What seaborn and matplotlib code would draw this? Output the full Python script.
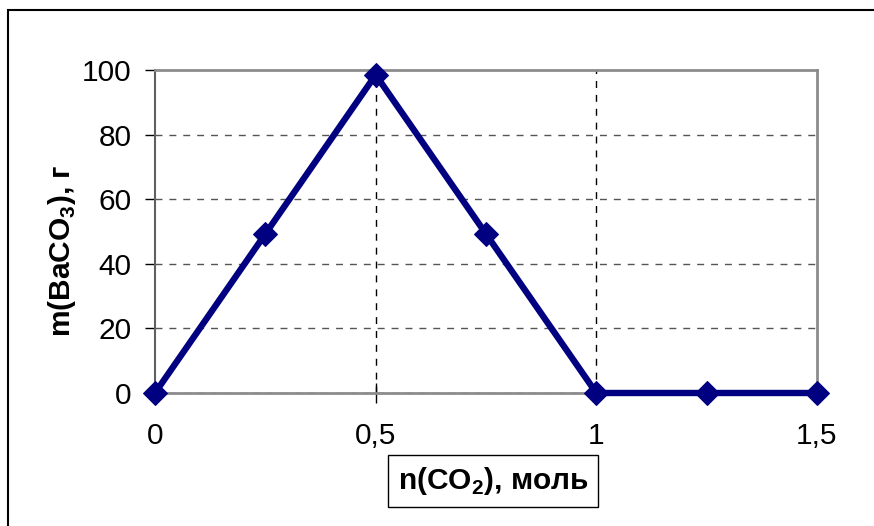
import matplotlib
matplotlib.use('Agg')
import matplotlib.pyplot as plt
import matplotlib.patches as patches
from matplotlib.ticker import FuncFormatter
import seaborn as sns

n_co2 = [0, 0.25, 0.5, 0.75, 1.0, 1.25, 1.5]
m_baco3 = [0, 49.25, 98.5, 49.25, 0, 0, 0]
x_ticks = [0, 0.5, 1.0, 1.5]
y_ticks = [0, 20, 40, 60, 80, 100]

sns.set_style('white')
plt.rcParams['font.family'] = ['Liberation Sans', 'DejaVu Sans']
plt.rcParams['mathtext.fontset'] = 'custom'
plt.rcParams['mathtext.rm'] = 'Liberation Sans'
plt.rcParams['mathtext.bf'] = 'Liberation Sans:bold'
plt.rcParams['text.color'] = 'black'

fig = plt.figure(figsize=(8.74, 5.26), dpi=100)
ax = fig.add_axes([155 / 874, 1 - 393 / 526, (817 - 155) / 874, (393 - 70) / 526])

# сетка
for y in y_ticks[1:-1]:
    ax.axhline(y, color='#555555', lw=1, ls=(0, (5, 5)), zorder=1)
for x in x_ticks[1:-1]:
    ax.axvline(x, color='black', lw=1, ls=(0, (5, 5)), zorder=1)

sns.lineplot(x=n_co2, y=m_baco3, ax=ax, color='#000080', linewidth=4.6,
             marker='D', markersize=12.5, markeredgecolor='#000080', zorder=3,
             clip_on=False)
ax.axhline(0, color='black', lw=1, ls=(0, (5, 5)), zorder=2)

ax.set_xlim(0, 1.5)
ax.set_ylim(0, 100)
ax.set_xticks(x_ticks)
ax.set_yticks(y_ticks)
ax.xaxis.set_major_formatter(FuncFormatter(lambda v, p: f'{v:g}'.replace('.', ',')))

for side in ['top', 'right', 'bottom']:
    ax.spines[side].set_color('#8c8c8c')
    ax.spines[side].set_linewidth(2)
ax.spines['left'].set_color('#606060')
ax.spines['left'].set_linewidth(1.5)

ax.tick_params(axis='y', direction='out', length=7, width=1, color='black',
               labelsize=21.5, labelcolor='black', pad=10, left=True)
ax.tick_params(axis='x', direction='inout', length=14, width=1, color='black',
               labelsize=21.5, labelcolor='black', pad=14, bottom=True)

ax.text(-0.1405, 0.44, r'm(BaCO$_{\mathbf{3}}$), г', transform=ax.transAxes,
        rotation=90, ha='center', va='center', fontsize=21.5, fontweight='bold')
ax.text(0.5106, -0.2724, r'n(CO$_{\mathbf{2}}$), моль', transform=ax.transAxes,
        ha='center', va='center', fontsize=21.5, fontweight='bold',
        bbox=dict(boxstyle='square,pad=0.32', fc='white', ec='black', lw=1))

fig.patches.append(patches.Rectangle((8 / 874, -0.1), 1.0, 1.1 - 10 / 526,
                                     transform=fig.transFigure, fill=False,
                                     ec='black', lw=1.5))

fig.savefig('out.png', dpi=100)
